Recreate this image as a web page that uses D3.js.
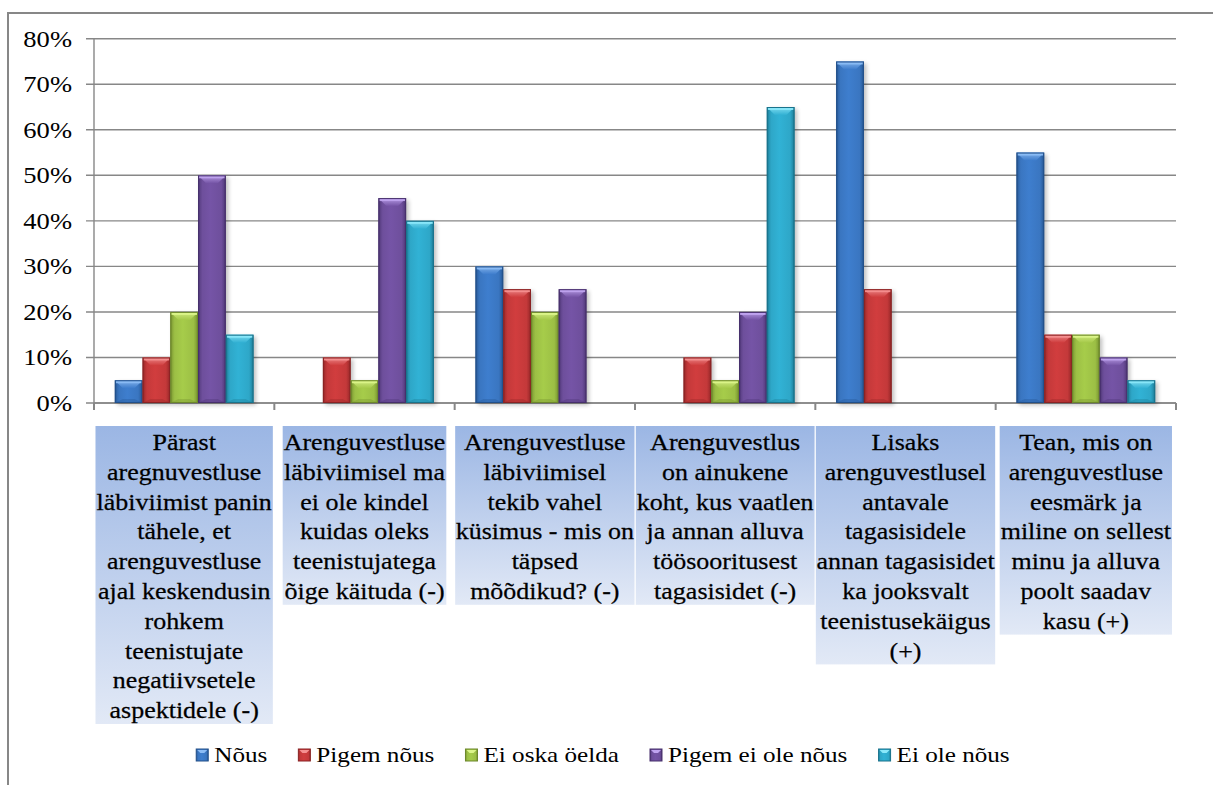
<!DOCTYPE html>
<html>
<head>
<meta charset="utf-8">
<script src="https://cdn.jsdelivr.net/npm/d3@7"></script>
<style>
  html, body { margin: 0; padding: 0; background: #fff; }
  svg { display: block; }
  text { font-family: "Liberation Serif", "Tinos", "Times New Roman", serif; fill: #000; }
</style>
</head>
<body>
<svg id="chart" width="1213" height="785"></svg>
<script>
// Survey answers per statement (share of respondents)
const categories = [
  ["Pärast", "aregnuvestluse", "läbiviimist panin", "tähele, et", "arenguvestluse", "ajal keskendusin", "rohkem", "teenistujate", "negatiivsetele", "aspektidele (-)"],
  ["Arenguvestluse", "läbiviimisel ma", "ei ole kindel", "kuidas oleks", "teenistujatega", "õige käituda (-)"],
  ["Arenguvestluse", "läbiviimisel", "tekib vahel", "küsimus - mis on", "täpsed", "mõõdikud? (-)"],
  ["Arenguvestlus", "on ainukene", "koht, kus vaatlen", "ja annan alluva", "töösooritusest", "tagasisidet (-)"],
  ["Lisaks", "arenguvestlusel", "antavale", "tagasisidele", "annan tagasisidet", "ka jooksvalt", "teenistusekäigus", "(+)"],
  ["Tean, mis on", "arenguvestluse", "eesmärk ja", "miline on sellest", "minu ja alluva", "poolt saadav", "kasu (+)"]
];
const seriesNames = ["Nõus", "Pigem nõus", "Ei oska öelda", "Pigem ei ole nõus", "Ei ole nõus"];
const nous          = [0.05, 0.00, 0.30, 0.00, 0.75, 0.55];
const pigemNous     = [0.10, 0.10, 0.25, 0.10, 0.25, 0.15];
const eiOskaOelda   = [0.20, 0.05, 0.20, 0.05, 0.00, 0.15];
const pigemEiOle    = [0.50, 0.45, 0.25, 0.20, 0.00, 0.10];
const eiOleNous     = [0.15, 0.40, 0.00, 0.65, 0.00, 0.05];
const yTicks = [0, 0.1, 0.2, 0.3, 0.4, 0.5, 0.6, 0.7, 0.8];

const seriesValues = [nous, pigemNous, eiOskaOelda, pigemEiOle, eiOleNous];

// Bar palettes: edge, body, highlight
const palette = [
  { edge: "#22508a", body: "#3a76c1", light: "#8cbcf5" },
  { edge: "#8a2324", body: "#c4393a", light: "#f59090" },
  { edge: "#6c872a", body: "#9cbf45", light: "#dcf58a" },
  { edge: "#47306c", body: "#6e4f9c", light: "#c0a4f0" },
  { edge: "#19738c", body: "#2ea7c8", light: "#8ae8fa" }
];

const svg = d3.select("#chart");
const defs = svg.append("defs");

const plot = { left: 94, right: 1176, top: 38.7, bottom: 403 };
const sx = 1.13; // horizontal stretch of the serif type

const x0 = d3.scaleBand().domain(d3.range(categories.length)).range([plot.left, plot.right]).padding(0);
const x1 = d3.scaleBand().domain(d3.range(seriesNames.length)).range([0, x0.bandwidth()])
  .paddingInner(0).paddingOuter(0.75);
const y = d3.scaleLinear().domain([0, 0.8]).range([plot.bottom, plot.top]);

// Outer chart frame
svg.append("rect")
  .attr("x", 8).attr("y", 13).attr("width", 1230).attr("height", 790)
  .attr("fill", "none").attr("stroke", "#878787").attr("stroke-width", 2);

// Gradients
palette.forEach((p, i) => {
  const g = defs.append("linearGradient").attr("id", "body" + i)
    .attr("x1", 0).attr("x2", 1).attr("y1", 0).attr("y2", 0);
  g.append("stop").attr("offset", "0%").attr("stop-color", p.edge);
  g.append("stop").attr("offset", "9%").attr("stop-color", d3.interpolateRgb(p.edge, p.body)(0.7));
  g.append("stop").attr("offset", "16%").attr("stop-color", p.body);
  g.append("stop").attr("offset", "45%").attr("stop-color", d3.color(p.body).brighter(0.18));
  g.append("stop").attr("offset", "84%").attr("stop-color", p.body);
  g.append("stop").attr("offset", "92%").attr("stop-color", d3.interpolateRgb(p.edge, p.body)(0.6));
  g.append("stop").attr("offset", "100%").attr("stop-color", p.edge);
  const t = defs.append("linearGradient").attr("id", "top" + i)
    .attr("x1", 0).attr("x2", 0).attr("y1", 0).attr("y2", 1);
  t.append("stop").attr("offset", "0%").attr("stop-color", p.light);
  t.append("stop").attr("offset", "35%").attr("stop-color", d3.interpolateRgb(p.light, p.body)(0.4));
  t.append("stop").attr("offset", "100%").attr("stop-color", d3.color(p.body).brighter(0.15));
});
const lg = defs.append("linearGradient").attr("id", "labelBg")
  .attr("x1", 0).attr("x2", 0).attr("y1", 0).attr("y2", 1);
lg.append("stop").attr("offset", "0%").attr("stop-color", "#9bb6e4");
lg.append("stop").attr("offset", "100%").attr("stop-color", "#e2e9f6");
const blur = defs.append("filter").attr("id", "shadow").attr("x", "-50%").attr("y", "-50%").attr("width", "200%").attr("height", "200%");
blur.append("feGaussianBlur").attr("stdDeviation", 2.2);

// Gridlines with tick stubs
const grid = svg.append("g");
grid.selectAll("line").data(yTicks).join("line")
  .attr("x1", plot.left - 8).attr("x2", plot.right)
  .attr("y1", d => y(d)).attr("y2", d => y(d))
  .attr("stroke", "#878787").attr("stroke-width", 1.4);

// Y axis
svg.append("line")
  .attr("x1", plot.left).attr("x2", plot.left)
  .attr("y1", plot.top).attr("y2", plot.bottom + 7)
  .attr("stroke", "#878787").attr("stroke-width", 1.4);

// Y labels
svg.append("g").selectAll("text").data(yTicks).join("text")
  .attr("transform", d => `translate(72,${y(d) + 8}) scale(${sx},1)`)
  .attr("text-anchor", "end")
  .attr("font-size", 23.5)
  .text(d => d3.format(".0%")(d));

// X axis with category separators
svg.append("line")
  .attr("x1", plot.left).attr("x2", plot.right)
  .attr("y1", plot.bottom).attr("y2", plot.bottom)
  .attr("stroke", "#878787").attr("stroke-width", 1.4);
const sepX = d3.range(categories.length + 1).map(i => i < categories.length ? x0(i) : x0(i - 1) + x0.bandwidth());
svg.append("g").selectAll("line").data(sepX).join("line")
  .attr("x1", d => d).attr("x2", d => d)
  .attr("y1", plot.bottom).attr("y2", plot.bottom + 7)
  .attr("stroke", "#878787").attr("stroke-width", 2);

// Bars (bevelled)
const bars = [];
categories.forEach((c, ci) => {
  seriesValues.forEach((vals, si) => {
    if (vals[ci] > 0) bars.push({ ci, si, v: vals[ci] });
  });
});
const barG = svg.append("g");
// shadows first so neighbouring bars sit above them
barG.append("g").selectAll("rect").data(bars).join("rect")
  .attr("x", d => x0(d.ci) + x1(d.si) + 2.5)
  .attr("y", d => y(d.v) + 2)
  .attr("width", x1.bandwidth())
  .attr("height", d => y(0) - y(d.v))
  .attr("fill", "#000").attr("opacity", 0.25).attr("filter", "url(#shadow)");
const bar = barG.append("g").selectAll("g").data(bars).join("g");
bar.each(function(d) {
  const g = d3.select(this);
  const bx = x0(d.ci) + x1(d.si);
  const bw = x1.bandwidth();
  const by = y(d.v);
  const bh = y(0) - by;
  const p = palette[d.si];
  const b = Math.min(8, bh / 2.5);
  const pts = a => a.map(q => q.join(",")).join(" ");
  g.append("rect").attr("x", bx).attr("y", by).attr("width", bw).attr("height", bh)
    .attr("fill", `url(#body${d.si})`);
  g.append("polygon")
    .attr("points", pts([[bx, by], [bx + bw, by], [bx + bw - b, by + b], [bx + b, by + b]]))
    .attr("fill", `url(#top${d.si})`);
  g.append("rect").attr("x", bx + 1).attr("y", by + 1).attr("width", bw - 2).attr("height", Math.min(2, bh / 4))
    .attr("fill", p.light).attr("opacity", 0.9);
  g.append("polygon")
    .attr("points", pts([[bx + b, by + bh - b * 0.5], [bx + bw - b, by + bh - b * 0.5], [bx + bw, by + bh], [bx, by + bh]]))
    .attr("fill", p.edge).attr("opacity", 0.3);
  g.append("rect").attr("x", bx + 0.5).attr("y", by + 0.5).attr("width", bw - 1).attr("height", bh - 1)
    .attr("fill", "none").attr("stroke", p.edge).attr("stroke-width", 1);
});

// Category label boxes
const lineH = 29.8;
const labelTop = 426;
const labG = svg.append("g");
categories.forEach((lines, ci) => {
  const cx = x0(ci) + x0.bandwidth() / 2;
  const g = labG.append("g");
  const rect = g.append("rect").attr("fill", "url(#labelBg)");
  const texts = g.selectAll("text").data(lines).join("text")
    .attr("transform", (d, i) => `translate(${cx},${labelTop + 24 + i * lineH}) scale(${sx},1)`)
    .attr("text-anchor", "middle")
    .attr("font-size", 23)
    .attr("stroke", "#000").attr("stroke-width", 0.25)
    .text(d => d);
  let maxW = 0;
  texts.each(function() { maxW = Math.max(maxW, this.getComputedTextLength() * sx); });
  const w = Math.min(x0.bandwidth() - 1, maxW + 2);
  rect.attr("x", cx - w / 2).attr("y", labelTop).attr("width", w).attr("height", lines.length * lineH);
});

// Legend
const legY = 755;
const legSx = 1.17;
const leg = svg.append("g");
const items = leg.selectAll("g").data(seriesNames).join("g");
items.append("rect").attr("class", "sw")
  .attr("width", 12).attr("height", 12).attr("y", legY - 6)
  .attr("fill", (d, i) => `url(#body${i})`).attr("stroke", (d, i) => palette[i].edge);
items.append("polygon").attr("class", "swTop")
  .attr("fill", (d, i) => palette[i].light);
items.append("text")
  .attr("font-size", 21.5)
  .text(d => d);
const widths = [];
items.select("text").each(function() { widths.push(this.getComputedTextLength() * legSx); });
const gapSw = 6, gapItem = 31;
const total = d3.sum(widths) + widths.length * (12 + gapSw) + gapItem * (widths.length - 1);
let cursor = 603 - total / 2;
items.each(function(d, i) {
  const g = d3.select(this);
  const sxp = cursor;
  g.select("rect.sw").attr("x", sxp);
  g.select("polygon.swTop").attr("points", `${sxp + 1},${legY - 5} ${sxp + 11},${legY - 5} ${sxp + 8},${legY - 2} ${sxp + 4},${legY - 2}`);
  g.select("text").attr("transform", `translate(${sxp + 12 + gapSw},${legY + 7}) scale(${legSx},1)`);
  cursor += 12 + gapSw + widths[i] + gapItem;
});
</script>
</body>
</html>
